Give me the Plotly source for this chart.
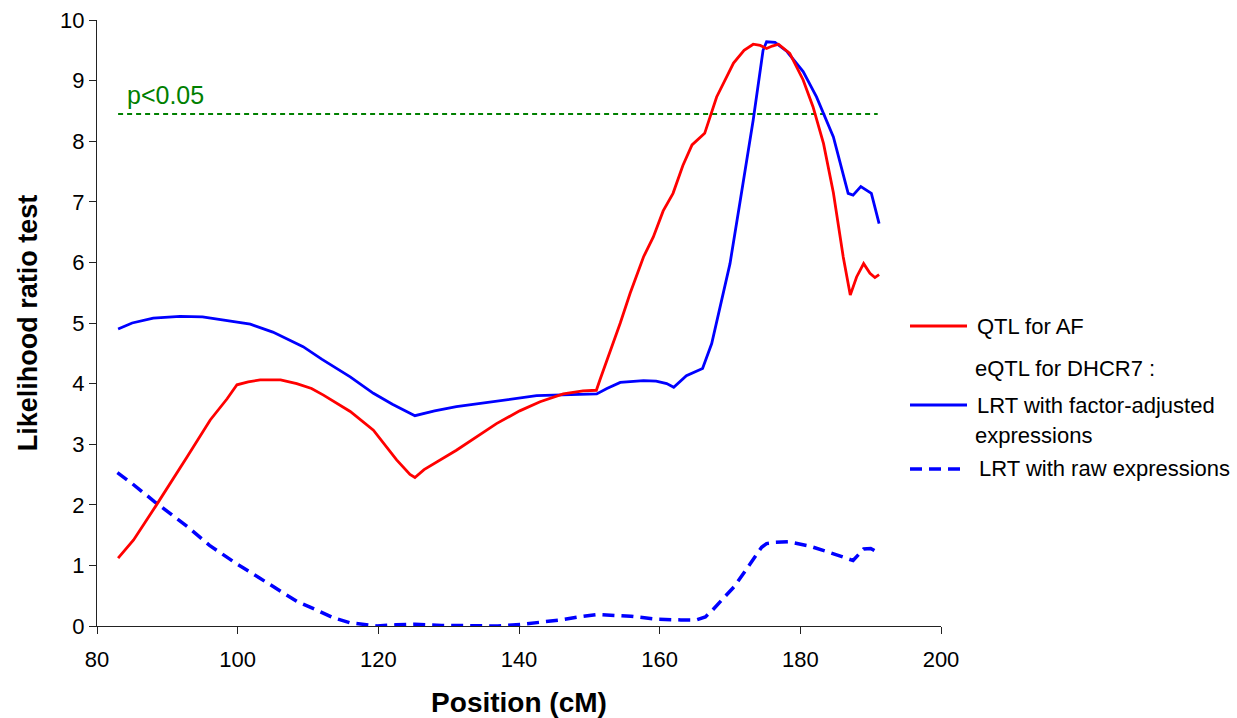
import plotly.graph_objects as go

# ---------------- data ----------------
qtl_x = [83.0, 85.2, 88.3, 90.5, 92.8, 96.1, 98.5, 99.9, 101.5, 103.2, 106.1, 108.4, 110.5, 112.2,
         116.0, 119.3, 122.6, 124.5, 125.2, 126.5, 128.8, 131.1, 136.8, 140.1, 143.0, 146.3, 149.1,
         151.0, 151.5, 152.9, 154.4, 155.8, 157.7, 159.1, 160.5, 161.9, 163.3, 164.6, 166.4, 168.1,
         170.5, 172.0, 173.3, 174.3, 175.2, 176.0, 176.9, 178.5, 180.4, 181.8, 183.3, 184.7, 186.1,
         187.1, 188.0, 189.0, 189.9, 190.6, 191.2]
qtl_y = [1.12, 1.42, 1.97, 2.38, 2.79, 3.40, 3.75, 3.98, 4.03, 4.06, 4.06, 4.00, 3.92, 3.81,
         3.54, 3.23, 2.74, 2.50, 2.45, 2.58, 2.74, 2.90, 3.34, 3.55, 3.70, 3.83, 3.88,
         3.89, 4.06, 4.50, 5.00, 5.49, 6.09, 6.42, 6.85, 7.14, 7.60, 7.94, 8.13, 8.73,
         9.29, 9.50, 9.60, 9.58, 9.53, 9.57, 9.60, 9.45, 9.01, 8.57, 7.96, 7.15, 6.09,
         5.46, 5.76, 5.98, 5.82, 5.75, 5.80]

adj_x = [83.0, 85.0, 88.0, 91.8, 95.0, 98.0, 101.8, 105.0, 109.3, 112.0, 116.0, 119.3, 122.0,
         125.2, 128.0, 131.1, 136.8, 140.1, 142.5, 144.9, 151.05, 152.5, 154.4, 157.7, 159.5,
         161.0, 162.0, 163.8, 166.1, 167.4, 168.8, 170.0, 171.4, 173.3, 174.7, 175.2, 176.4,
         178.1, 180.4, 182.3, 184.7, 186.8, 187.5, 188.6, 190.1, 191.2]
adj_y = [4.90, 5.00, 5.08, 5.11, 5.10, 5.05, 4.98, 4.85, 4.61, 4.40, 4.11, 3.84, 3.66,
         3.47, 3.55, 3.62, 3.71, 3.76, 3.80, 3.81, 3.83, 3.92, 4.02, 4.05, 4.04,
         4.00, 3.94, 4.13, 4.25, 4.66, 5.38, 5.98, 6.98, 8.35, 9.50, 9.64, 9.63,
         9.48, 9.15, 8.73, 8.07, 7.14, 7.11, 7.25, 7.14, 6.64]

raw_x = [82.9, 85.0, 88.2, 92.85, 96.0, 99.8, 103.0, 105.9, 108.5, 111.3, 113.5, 115.9, 119.8,
         122.5, 125.2, 129.0, 132.9, 137.0, 140.6, 145.9, 148.5, 151.3, 155.9, 159.8, 163.0,
         165.2, 166.5, 167.5, 169.0, 170.6, 172.9, 174.5, 175.2, 176.5, 178.3, 181.3, 184.0,
         186.0, 187.5, 189.0, 190.0, 190.9]
raw_y = [2.53, 2.35, 2.05, 1.64, 1.33, 1.03, 0.80, 0.59, 0.40, 0.26, 0.14, 0.055, 0.0,
         0.02, 0.03, 0.01, 0.0, 0.0, 0.03, 0.10, 0.15, 0.19, 0.16, 0.11, 0.10,
         0.10, 0.15, 0.26, 0.45, 0.65, 1.03, 1.30, 1.36, 1.38, 1.39, 1.32, 1.22,
         1.14, 1.08, 1.27, 1.28, 1.22]

thresh_x = [83.0, 191.0]
thresh_value = 8.45
thresh_label = "p<0.05"

x_ticks = [80, 100, 120, 140, 160, 180, 200]
y_ticks = [0, 1, 2, 3, 4, 5, 6, 7, 8, 9, 10]

legend_names = ["QTL for AF", "eQTL for DHCR7 :", "LRT with factor-adjusted", "expressions",
                "LRT with raw expressions"]

RED = "#FF0000"
BLUE = "#0000FF"
GREEN = "#008000"
FONT = "Arial, Liberation Sans, sans-serif"

fig = go.Figure()
fig.add_trace(go.Scatter(x=thresh_x, y=[thresh_value] * len(thresh_x), mode="lines",
                         line=dict(color=GREEN, width=2, dash="5px,4px"), showlegend=False))
fig.add_trace(go.Scatter(x=raw_x, y=raw_y, mode="lines",
                         line=dict(color=BLUE, width=3.5, dash="12px,7px"), showlegend=False))
fig.add_trace(go.Scatter(x=adj_x, y=adj_y, mode="lines",
                         line=dict(color=BLUE, width=2.8), showlegend=False))
fig.add_trace(go.Scatter(x=qtl_x, y=qtl_y, mode="lines",
                         line=dict(color=RED, width=2.8), showlegend=False))

fig.add_annotation(x=84, y=thresh_value, yshift=19, text=thresh_label, showarrow=False,
                   xanchor="left", yanchor="middle", font=dict(family=FONT, size=25, color=GREEN))

# ---- manual legend (paper coords) ----
def px2paper_x(px):
    return (px - 97) / 844.0

def px2paper_y(py):
    return (626 - py) / 606.0

leg_items = [
    (326, RED, "solid", 2.8, legend_names[0], 975),
    (369, None, None, 0, legend_names[1], 973),
    (405, BLUE, "solid", 2.8, legend_names[2], 975),
    (435, None, None, 0, legend_names[3], 973),
    (469, BLUE, "12px,7px", 3.5, legend_names[4], 977),
]
for py, col, dash, w, txt, tx in leg_items:
    if col is not None:
        fig.add_shape(type="line", xref="paper", yref="paper",
                      x0=px2paper_x(910), x1=px2paper_x(967), y0=px2paper_y(py), y1=px2paper_y(py),
                      line=dict(color=col, width=w, dash=dash))
    fig.add_annotation(xref="paper", yref="paper", x=px2paper_x(tx), y=px2paper_y(py),
                       text=txt, showarrow=False, xanchor="left", yanchor="middle",
                       font=dict(family=FONT, size=22, color="black"))

fig.update_layout(
    width=1237, height=718,
    margin=dict(l=97, r=296, t=20, b=92, autoexpand=False),
    paper_bgcolor="white", plot_bgcolor="white",
    font=dict(family=FONT, color="black"),
    showlegend=False,
)
fig.update_xaxes(range=[80, 200], tickvals=x_ticks, ticktext=[str(v) for v in x_ticks],
                 automargin=False,
                 showgrid=False, zeroline=False, showline=True, linecolor="#222222", linewidth=1,
                 ticks="outside", ticklen=7, tickcolor="#222222", ticklabelstandoff=7,
                 tickfont=dict(family=FONT, size=22),
                 title=dict(text="<b>Position (cM)</b>", font=dict(family=FONT, size=28), standoff=26))
fig.update_yaxes(range=[0, 10], tickvals=y_ticks, ticktext=[str(v) for v in y_ticks],
                 automargin=False,
                 showgrid=False, zeroline=False, showline=True, linecolor="#222222", linewidth=1,
                 ticks="outside", ticklen=7, tickcolor="#222222",
                 tickfont=dict(family=FONT, size=22),
                 title=dict(text="<b>Likelihood ratio test</b>", font=dict(family=FONT, size=27), standoff=14))

fig.write_html(
    "out.html",
    config={"displayModeBar": False},
    post_script="document.body.style.margin='0';document.body.style.overflow='hidden';",
)
